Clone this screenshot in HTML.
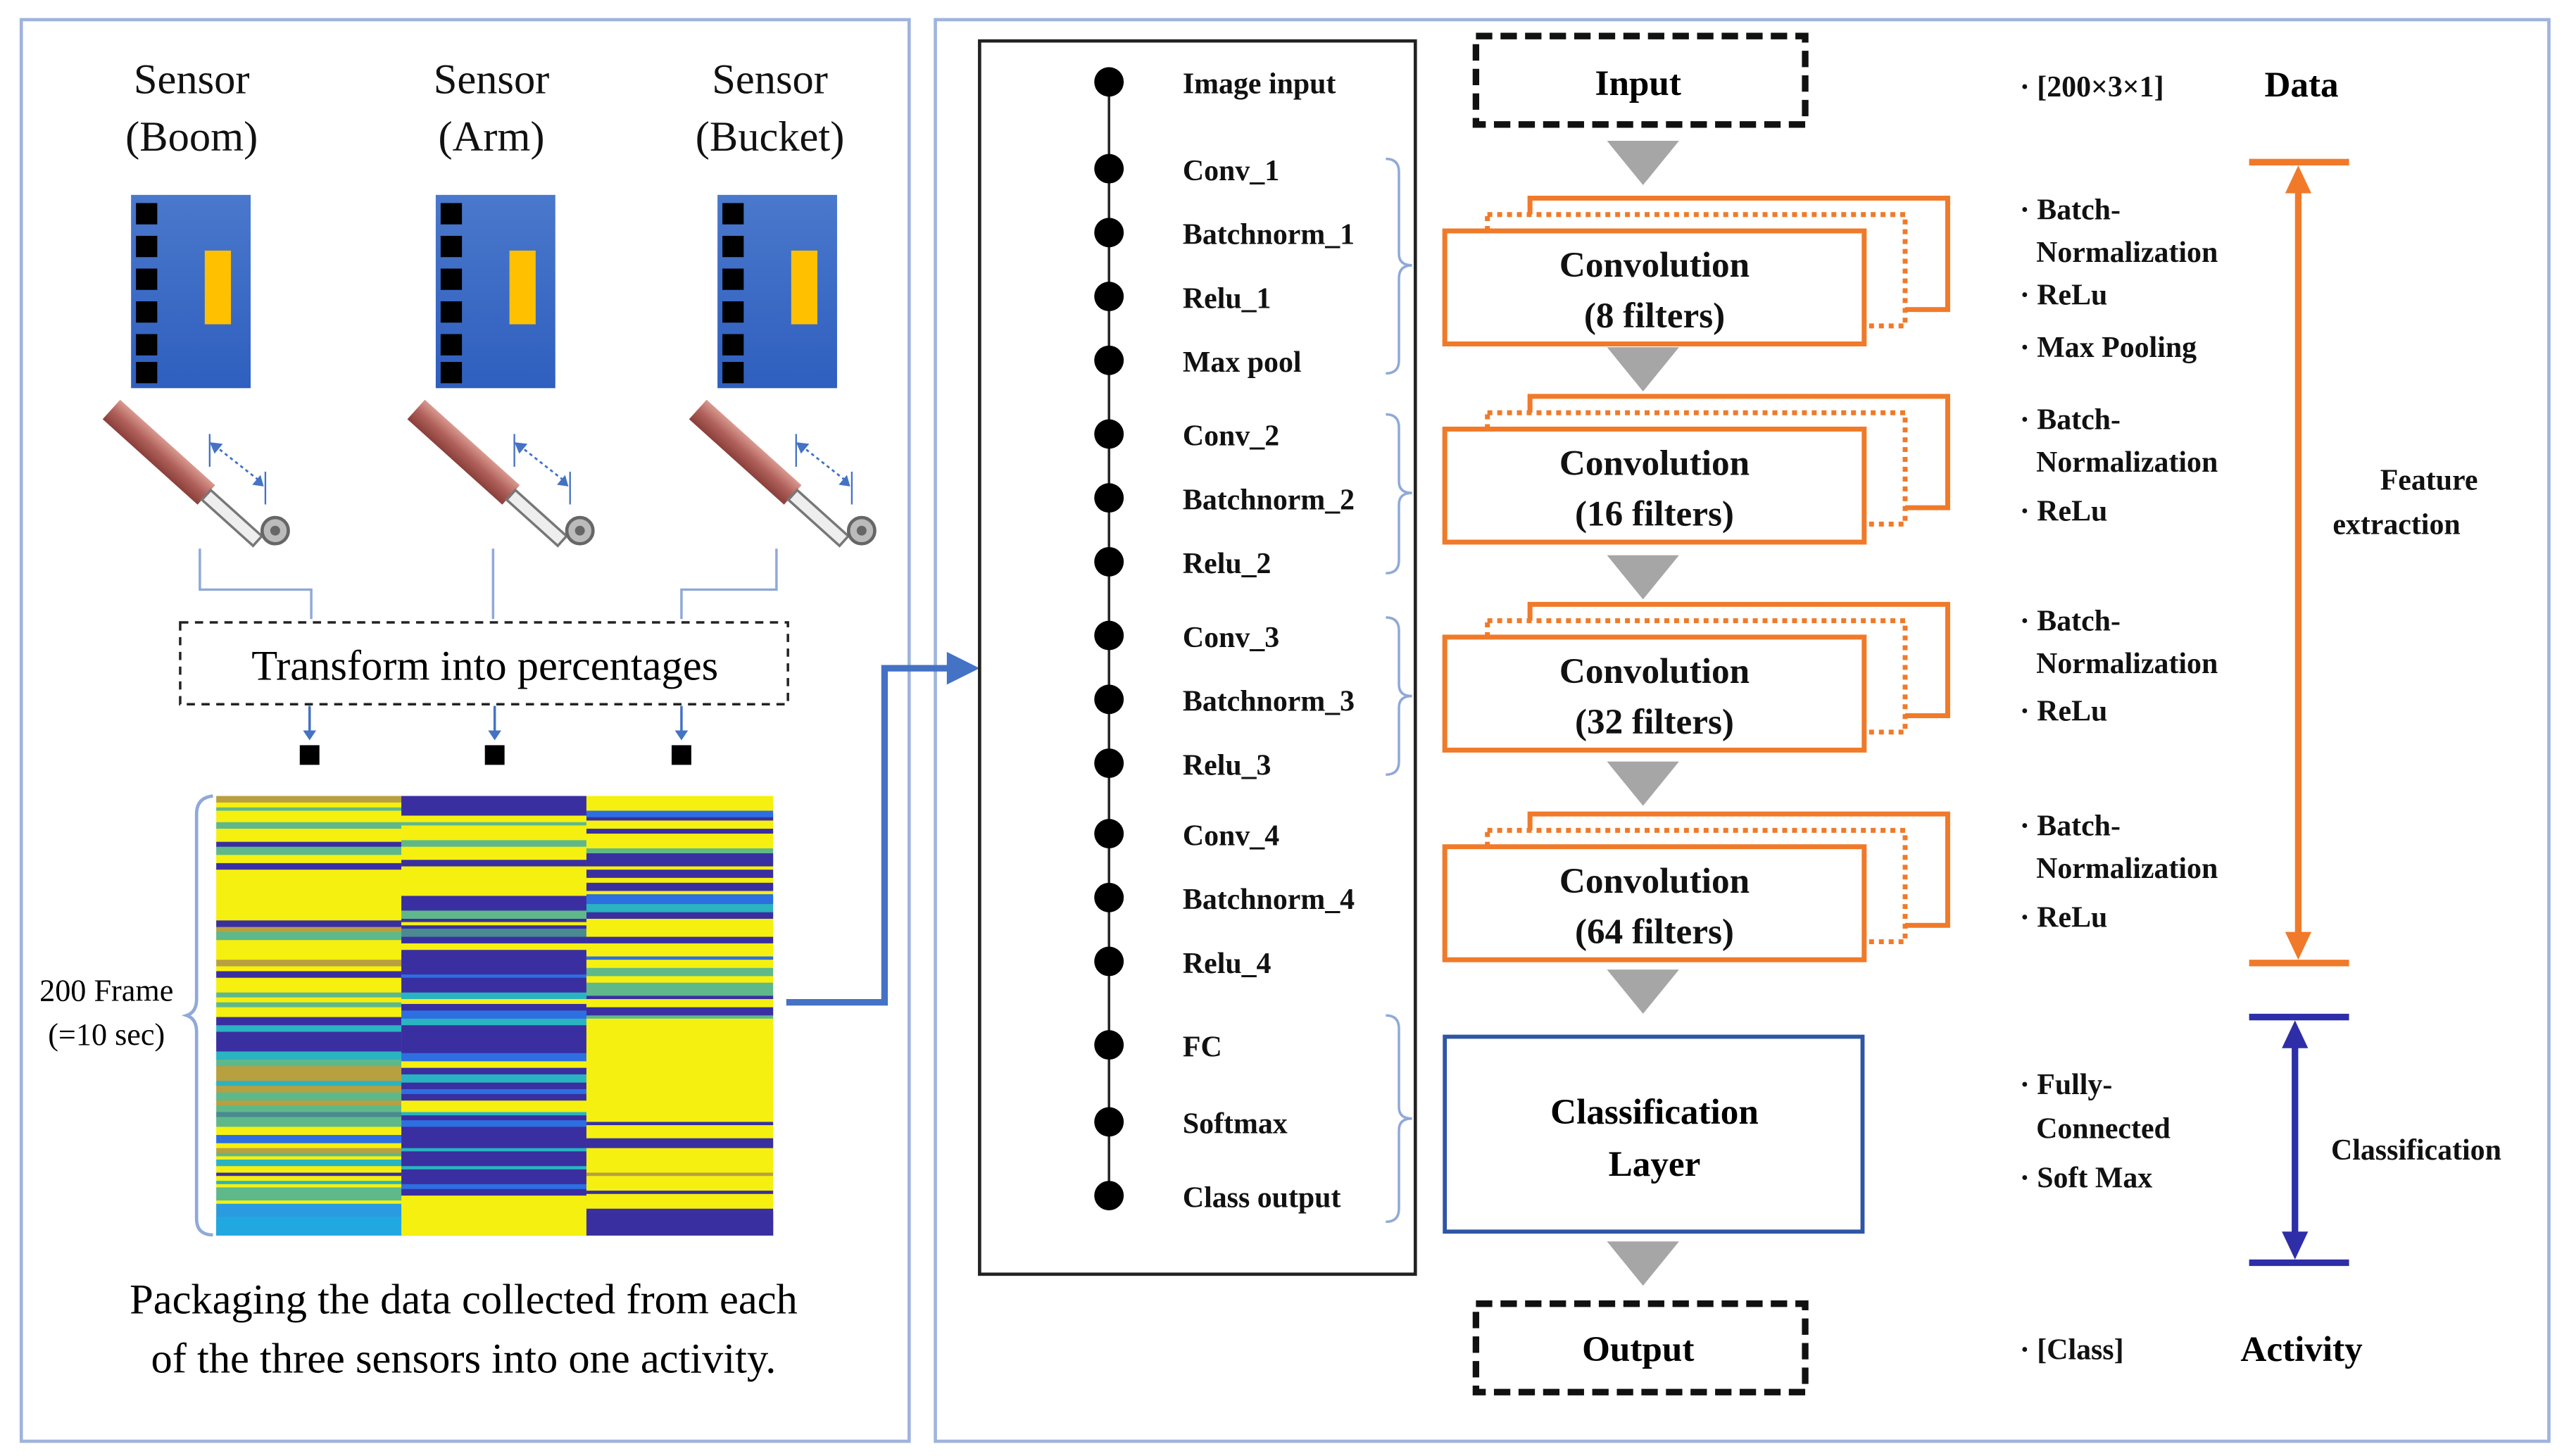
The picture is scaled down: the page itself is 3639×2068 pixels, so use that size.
<!DOCTYPE html>
<html><head><meta charset="utf-8"><style>
html,body{margin:0;padding:0;background:#fff;}
svg{display:block;}
.s{font-family:"Liberation Serif",serif;}
.b{font-family:"Liberation Serif",serif;font-weight:bold;}
</style></head><body>
<svg width="3639" height="2068" viewBox="0 0 1564 889" preserveAspectRatio="none" xmlns="http://www.w3.org/2000/svg">
<defs>
<linearGradient id="bg" x1="0" y1="0" x2="0" y2="1"><stop offset="0" stop-color="#4a78cc"/><stop offset="1" stop-color="#2f5fbf"/></linearGradient>
<linearGradient id="cy" x1="0" y1="0" x2="0" y2="1"><stop offset="0" stop-color="#d99a90"/><stop offset="0.5" stop-color="#b0605a"/><stop offset="1" stop-color="#8a3f3a"/></linearGradient>
<g id="sensor">
<rect x="0" y="0" width="73" height="118" fill="url(#bg)"/>
<rect x="3" y="5" width="13" height="13" fill="#000"/><rect x="3" y="25" width="13" height="13" fill="#000"/><rect x="3" y="45" width="13" height="13" fill="#000"/><rect x="3" y="65" width="13" height="13" fill="#000"/><rect x="3" y="85" width="13" height="13" fill="#000"/><rect x="3" y="102" width="13" height="13" fill="#000"/>
<rect x="45" y="34" width="16" height="45" fill="#ffc000"/>
<g transform="translate(-12,131)">
<g transform="rotate(42 0 0)"><rect x="0" y="-8" width="78" height="16" fill="url(#cy)"/><rect x="78" y="-4" width="42" height="8" fill="#eee" stroke="#777" stroke-width="1.5"/></g>
<circle cx="100" cy="74" r="8" fill="#bbb" stroke="#666" stroke-width="2"/><circle cx="100" cy="74" r="3" fill="#666"/>
<line x1="60" y1="15" x2="60" y2="35" stroke="#4472c4" stroke-width="1"/>
<line x1="94" y1="38" x2="94" y2="58" stroke="#4472c4" stroke-width="1"/>
<line x1="63" y1="22" x2="91" y2="44" stroke="#4472c4" stroke-width="1.2" stroke-dasharray="2,2"/>
<polygon points="60,20 68,21 63,27" fill="#4472c4"/><polygon points="93,47 86,46 91,40" fill="#4472c4"/>
</g>
</g>
<g id="conv">
<rect x="52" y="-20" width="255" height="68" fill="#fff" stroke="#f07a2a" stroke-width="3"/>
<rect x="26" y="-10" width="255" height="68" fill="#fff" stroke="#f07a2a" stroke-width="3" stroke-dasharray="3,3"/>
<rect x="0" y="0" width="256" height="69" fill="#fff" stroke="#f07a2a" stroke-width="3"/>
</g>
<polygon id="tri" points="-22,0 22,0 0,27" fill="#a6a6a6"/>
</defs>
<rect width="1564" height="889" fill="#fff"/>
<rect x="13" y="12" width="542" height="868" fill="none" stroke="#9fb4dc" stroke-width="2"/>
<rect x="571" y="12" width="985" height="868" fill="none" stroke="#9fb4dc" stroke-width="2"/>

<g class="s" font-size="26" text-anchor="middle" fill="#111">
<text x="117" y="57">Sensor</text><text x="117" y="92">(Boom)</text>
<text x="300" y="57">Sensor</text><text x="300" y="92">(Arm)</text>
<text x="470" y="57">Sensor</text><text x="470" y="92">(Bucket)</text>
</g>
<use href="#sensor" x="80" y="119"/>
<use href="#sensor" x="266" y="119"/>
<use href="#sensor" x="438" y="119"/>

<g stroke="#8fa9d8" stroke-width="1.5" fill="none">
<polyline points="122,335 122,360 190,360 190,378"/>
<polyline points="301,335 301,378"/>
<polyline points="474,335 474,360 416,360 416,378"/>
</g>
<rect x="110" y="380" width="371" height="50" fill="none" stroke="#222" stroke-width="1.5" stroke-dasharray="5,4"/>
<text class="s" x="296" y="415" font-size="26" text-anchor="middle">Transform into percentages</text>
<g stroke="#4472c4" stroke-width="1.5"><line x1="189" y1="431" x2="189" y2="448"/><line x1="302" y1="431" x2="302" y2="448"/><line x1="416" y1="431" x2="416" y2="448"/></g>
<g fill="#4472c4"><polygon points="185,446 193,446 189,452"/><polygon points="298,446 306,446 302,452"/><polygon points="412,446 420,446 416,452"/></g>
<rect x="183" y="455" width="12" height="12" fill="#000"/><rect x="296" y="455" width="12" height="12" fill="#000"/><rect x="410" y="455" width="12" height="12" fill="#000"/>

<g id="heat"></g>
<path d="M130,486 Q120,487 120,497 L120,610 Q120,618 114,620 Q120,622 120,630 L120,744 Q120,754 130,754" fill="none" stroke="#8fa9d8" stroke-width="2"/>
<text class="s" x="65" y="611" font-size="19" text-anchor="middle">200 Frame</text>
<text class="s" x="65" y="638" font-size="19" text-anchor="middle">(=10 sec)</text>
<text class="s" x="283" y="802" font-size="26" text-anchor="middle">Packaging the data collected from each</text>
<text class="s" x="283" y="838" font-size="26" text-anchor="middle">of the three sensors into one activity.</text>
<polyline points="480,612 540,612 540,408 580,408" fill="none" stroke="#4472c4" stroke-width="4"/>
<polygon points="578,398 598,408 578,418" fill="#4472c4"/>

<rect x="598" y="25" width="266" height="753" fill="none" stroke="#222" stroke-width="2"/>
<line x1="677" y1="50" x2="677" y2="730" stroke="#222" stroke-width="1.5"/>
<g fill="#000">
<circle cx="677" cy="50" r="9"/><circle cx="677" cy="103" r="9"/><circle cx="677" cy="142" r="9"/><circle cx="677" cy="181" r="9"/><circle cx="677" cy="220" r="9"/><circle cx="677" cy="265" r="9"/><circle cx="677" cy="304" r="9"/><circle cx="677" cy="343" r="9"/><circle cx="677" cy="388" r="9"/><circle cx="677" cy="427" r="9"/><circle cx="677" cy="466" r="9"/><circle cx="677" cy="509" r="9"/><circle cx="677" cy="548" r="9"/><circle cx="677" cy="587" r="9"/><circle cx="677" cy="638" r="9"/><circle cx="677" cy="685" r="9"/><circle cx="677" cy="730" r="9"/>
</g>
<g class="b" font-size="18" fill="#111">
<text x="722" y="57">Image input</text><text x="722" y="110">Conv_1</text><text x="722" y="149">Batchnorm_1</text><text x="722" y="188">Relu_1</text><text x="722" y="227">Max pool</text>
<text x="722" y="272">Conv_2</text><text x="722" y="311">Batchnorm_2</text><text x="722" y="350">Relu_2</text>
<text x="722" y="395">Conv_3</text><text x="722" y="434">Batchnorm_3</text><text x="722" y="473">Relu_3</text>
<text x="722" y="516">Conv_4</text><text x="722" y="555">Batchnorm_4</text><text x="722" y="594">Relu_4</text>
<text x="722" y="645">FC</text><text x="722" y="692">Softmax</text><text x="722" y="737">Class output</text>
</g>
<g fill="none" stroke="#8fa9d8" stroke-width="1.5">
<path d="M846,97 Q854,97 854,105 L854,155 Q854,162 862,162 Q854,162 854,170 L854,220 Q854,228 846,228"/>
<path d="M846,253 Q854,253 854,261 L854,294 Q854,301 862,301 Q854,301 854,308 L854,342 Q854,350 846,350"/>
<path d="M846,377 Q854,377 854,385 L854,418 Q854,425 862,425 Q854,425 854,432 L854,465 Q854,473 846,473"/>
<path d="M846,620 Q854,620 854,628 L854,676 Q854,683 862,683 Q854,683 854,690 L854,738 Q854,746 846,746"/>
</g>

<rect x="901" y="22" width="201" height="54" fill="none" stroke="#111" stroke-width="4" stroke-dasharray="10,5"/>
<text class="b" x="1000" y="58" font-size="22" text-anchor="middle">Input</text>
<use href="#tri" x="1003" y="86"/><use href="#tri" x="1003" y="758"/>
<use href="#conv" x="882" y="141"/><use href="#conv" x="882" y="262"/><use href="#conv" x="882" y="389"/><use href="#conv" x="882" y="517"/>
<use href="#tri" x="1003" y="212"/><use href="#tri" x="1003" y="339"/><use href="#tri" x="1003" y="465"/><use href="#tri" x="1003" y="592"/>
<g class="b" font-size="22" text-anchor="middle" fill="#111">
<text x="1010" y="169">Convolution</text><text x="1010" y="200">(8 filters)</text>
<text x="1010" y="290">Convolution</text><text x="1010" y="321">(16 filters)</text>
<text x="1010" y="417">Convolution</text><text x="1010" y="448">(32 filters)</text>
<text x="1010" y="545">Convolution</text><text x="1010" y="576">(64 filters)</text>
</g>
<rect x="882" y="633" width="255" height="119" fill="#fff" stroke="#2f55a4" stroke-width="2.5"/>
<text class="b" x="1010" y="686" font-size="22" text-anchor="middle">Classification</text>
<text class="b" x="1010" y="718" font-size="22" text-anchor="middle">Layer</text>
<rect x="901" y="796" width="201" height="54" fill="none" stroke="#111" stroke-width="4" stroke-dasharray="10,5"/>
<text class="b" x="1000" y="831" font-size="22" text-anchor="middle">Output</text>

<g class="b" font-size="18" fill="#111">
<text x="1233" y="59">· [200×3×1]</text>
<text x="1233" y="134">· Batch-</text><text x="1243" y="160">Normalization</text><text x="1233" y="186">· ReLu</text><text x="1233" y="218">· Max Pooling</text>
<text x="1233" y="262">· Batch-</text><text x="1243" y="288">Normalization</text><text x="1233" y="318">· ReLu</text>
<text x="1233" y="385">· Batch-</text><text x="1243" y="411">Normalization</text><text x="1233" y="440">· ReLu</text>
<text x="1233" y="510">· Batch-</text><text x="1243" y="536">Normalization</text><text x="1233" y="566">· ReLu</text>
<text x="1233" y="668">· Fully-</text><text x="1243" y="695">Connected</text><text x="1233" y="725">· Soft Max</text>
<text x="1233" y="830">· [Class]</text>
<text x="1453" y="299">Feature</text><text x="1463" y="326" text-anchor="middle">extraction</text>
<text x="1475" y="708" text-anchor="middle">Classification</text>
</g>
<text class="b" x="1405" y="59" font-size="22" text-anchor="middle">Data</text>
<text class="b" x="1405" y="831" font-size="22" text-anchor="middle">Activity</text>
<g stroke="#f07a2a" stroke-width="4"><line x1="1373" y1="99" x2="1434" y2="99"/><line x1="1373" y1="588" x2="1434" y2="588"/><line x1="1403" y1="110" x2="1403" y2="577"/></g>
<polygon points="1395,118 1411,118 1403,101" fill="#f07a2a"/><polygon points="1395,569 1411,569 1403,586" fill="#f07a2a"/>
<g stroke="#2e2ea8" stroke-width="4"><line x1="1373" y1="621" x2="1434" y2="621"/><line x1="1373" y1="771" x2="1434" y2="771"/><line x1="1401" y1="632" x2="1401" y2="760"/></g>
<polygon points="1393,640 1409,640 1401,623" fill="#2e2ea8"/><polygon points="1393,752 1409,752 1401,769" fill="#2e2ea8"/>
</svg>
<script>
(function(){
var g=document.getElementById('heat');var ns='http://www.w3.org/2000/svg';
var Y='#f5f00f',B='#3a2fa0',M='#2d6fe0',C='#2ab3c0',G='#5fb88a',O='#b8a040',T='#4a8a90',L='#2a9be0';
var seed=11;function r(){seed=(seed*9301+49297)%233280;return seed/233280;}
function add(x,y,w,h,c){var e=document.createElementNS(ns,'rect');e.setAttribute('x',x);e.setAttribute('y',y);e.setAttribute('width',w);e.setAttribute('height',h+0.4);e.setAttribute('fill',c);g.appendChild(e);}
function col(x,w,zones){var y=486;while(y<754){var z=zones(y);var h=2+Math.floor(r()*4);var c;var p=r();
if(z=='Y')c=p<0.85?Y:(p<0.93?O:G);
else if(z=='B')c=p<0.8?B:(p<0.9?M:T);
else if(z=='my')c=p<0.55?Y:(p<0.75?B:(p<0.85?G:(p<0.92?O:T)));
else if(z=='mg')c=p<0.35?G:(p<0.55?T:(p<0.7?O:(p<0.85?C:Y)));
else if(z=='mb')c=p<0.55?B:(p<0.68?M:(p<0.8?C:(p<0.9?T:Y)));
else c=p<0.42?Y:(p<0.74?B:(p<0.82?G:(p<0.88?M:(p<0.94?C:O))));
h=Math.min(h,754-y);add(x,y,w,h,c);y+=h;}}
col(132,113,function(y){if(y<530)return 'my';if(y<560)return 'Y';if(y<620)return 'my';if(y<640)return 'mb';if(y<690)return 'mg';if(y<735)return 'mx';return 'L';});
col(245,113,function(y){if(y<560)return 'mx';return 'mb';});
col(358,114,function(y){if(y>620&&y<675)return 'Y';if(y>=675&&y<728)return 'my';if(y>=740)return 'B';return 'mx';});
add(132,735,113,19,L);add(132,743,113,11,'#22a8e0');
add(245,730,113,24,Y);
add(358,622,114,52,Y);add(358,740,114,14,B);
})();
</script>
</body></html>
